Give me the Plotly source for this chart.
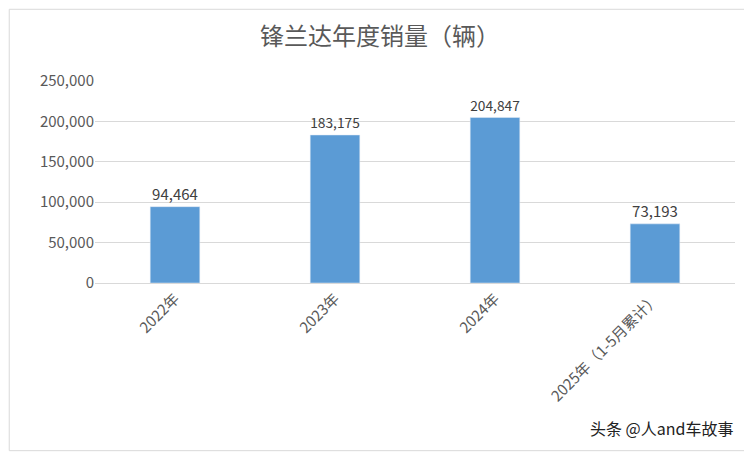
import plotly.graph_objects as go

categories = ["2022年", "2023年", "2024年", "2025年（1-5月累计）"]
values = [94464, 183175, 204847, 73193]
tick_vals = [0, 50000, 100000, 150000, 200000, 250000]
tick_text = ["0", "50,000", "100,000", "150,000", "200,000", "250,000"]

font = "Noto Sans CJK SC"
fig = go.Figure(go.Bar(
    x=categories, y=values, marker_color="#5B9BD5",
    text=[f"{v:,}" for v in values], textposition="outside",
    textfont=dict(size=15, color="#404040", family=font), cliponaxis=False,
))
fig.update_layout(
    width=744, height=444, margin=dict(l=87, r=17, t=73, b=169),
    paper_bgcolor="white", plot_bgcolor="white", bargap=0.69,
    showlegend=False, font=dict(family=font, color="#595959"),
    title=dict(text="锋兰达年度销量（辆）", x=0.5, xanchor="center", y=0.955,
               font=dict(size=24, color="#595959", family=font)),
    xaxis=dict(tickangle=-45, tickfont=dict(size=15, color="#595959"),
               showline=True, linecolor="#D9D9D9", ticks=""),
    yaxis=dict(range=[0, 250000], tickvals=tick_vals, ticktext=tick_text,
               tickfont=dict(size=15, color="#595959"), gridcolor="#D9D9D9",
               zeroline=False, showline=False),
    shapes=[dict(type="rect", xref="paper", yref="paper", x0=-0.134, x1=1.025,
                 y0=-0.83, y1=1.355, line=dict(color="#D9D9D9", width=1))],
    annotations=[dict(text="头条 @人and车故事", xref="paper", yref="paper",
                      x=1.0, y=-0.72, xanchor="right", yanchor="middle",
                      showarrow=False, font=dict(size=16, color="#222222", family=font))],
)
fig.write_html("out.html")
